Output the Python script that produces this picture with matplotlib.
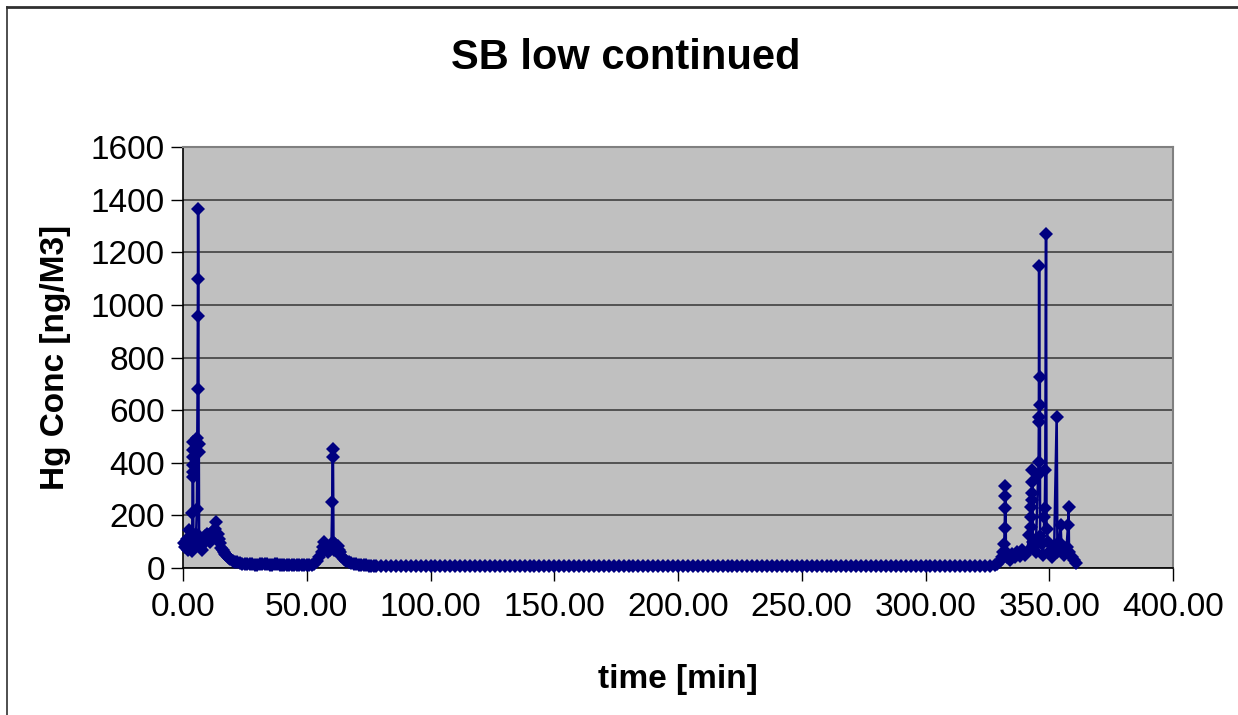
import matplotlib.pyplot as plt
from matplotlib.lines import Line2D

# time [min] and Hg concentration [ng/M3]
# first burst, 0 - 25 min
t_start = [0.5, 1.0, 1.5, 2.0, 2.5, 3.0, 3.5, 3.7, 3.8, 3.85, 3.9, 3.95, 4.0, 4.05, 4.1,
           4.2, 4.6, 5.0, 5.3, 5.6, 5.8, 5.9, 6.0, 6.1, 6.2, 6.3, 6.4, 6.5, 7.0, 7.5,
           8.0, 8.5, 9.0, 9.5, 10.0, 10.5, 11.0, 11.5, 12.0, 12.5, 13.0, 13.5, 14.0,
           14.5, 15.0, 15.5, 16.0, 16.5, 17.0, 17.5, 18.0, 18.5, 19.0, 20, 21, 22, 23,
           24, 25]
c_start = [95, 80, 110, 70, 145, 85, 65, 120, 209, 347, 392, 449, 480, 423, 366,
           90, 75, 100, 130, 224, 495, 680, 958, 1366, 1100, 470, 440, 120, 80, 70,
           100, 95, 120, 130, 110, 125, 100, 115, 140, 120, 150, 175, 130,
           110, 95, 75, 70, 60, 55, 48, 42, 38, 33, 28, 24, 21, 19,
           17, 16]

# slow decay and second bump, 26 - 78 min
t_mid = [26, 27, 28, 29, 30, 31, 32, 33, 34, 35, 36, 37, 38, 39, 40, 41, 42, 43, 44,
         45, 46, 47, 48, 49, 50, 51, 52, 53, 54, 55, 56,
         56.5, 57, 57.5, 58, 58.5, 59, 59.5, 60, 60.3, 60.5, 60.6, 60.8, 61.2, 61.5,
         62, 62.5, 63, 63.5, 64, 65, 66, 67, 68, 69, 70, 71, 72, 73, 74, 75, 76, 77, 78]
c_mid = [15, 14, 14, 13, 13, 15, 16, 14, 14, 13, 13, 14, 15, 13, 13, 12, 12, 13, 13,
         12, 12, 11, 11, 12, 12, 11, 11, 15, 25, 40, 60,
         80, 100, 85, 70, 60, 80, 70, 90, 251, 452, 422, 100, 70, 90,
         80, 85, 70, 60, 45, 35, 28, 24, 20, 17, 15, 13, 12, 11, 10, 9, 9, 8, 8]

# long quiet stretch, 80 - 326 min
t_flat = [80, 82, 84, 86, 88, 90, 92, 94, 96, 98, 100, 102, 104, 106, 108, 110, 112,
          114, 116, 118, 120, 122, 124, 126, 128, 130, 132, 134, 136, 138, 140, 142,
          144, 146, 148, 150, 152, 154, 156, 158, 160, 162, 164, 166, 168, 170, 172,
          174, 176, 178, 180, 182, 184, 186, 188, 190, 192, 194, 196, 198, 200, 202,
          204, 206, 208, 210, 212, 214, 216, 218, 220, 222, 224, 226, 228, 230, 232,
          234, 236, 238, 240, 242, 244, 246, 248, 250, 252, 254, 256, 258, 260, 262,
          264, 266, 268, 270, 272, 274, 276, 278, 280, 282, 284, 286, 288, 290, 292,
          294, 296, 298, 300, 302, 304, 306, 308, 310, 312, 314, 316, 318, 320, 322,
          324, 326]
c_flat = [8, 8, 7, 8, 7, 7, 8, 7, 7, 7, 8, 7, 7, 6, 7, 7, 6,
          7, 6, 7, 7, 6, 7, 7, 6, 7, 6, 6, 7, 6, 6, 7,
          6, 6, 6, 7, 6, 6, 6, 6, 6, 7, 6, 6, 6, 6, 7,
          6, 7, 6, 6, 6, 7, 6, 6, 6, 6, 6, 6, 6, 6, 6,
          6, 6, 6, 6, 6, 6, 6, 6, 6, 6, 6, 6, 6, 7, 9,
          8, 7, 6, 6, 6, 6, 6, 6, 6, 6, 6, 6, 6, 6, 6,
          6, 6, 6, 6, 6, 6, 6, 6, 6, 6, 6, 6, 6, 6, 6,
          6, 6, 6, 6, 6, 6, 6, 6, 6, 6, 7, 7, 7, 8, 8,
          8, 9]

# final burst, 328 - 361 min
t_end = [328, 329, 330, 331, 331.5, 331.8, 332, 332.1, 332.2, 332.3, 332.5, 333, 334,
         335, 336, 337, 338, 339, 340, 341, 342, 342.5, 342.7, 342.8, 342.9, 343,
         343.1, 343.2, 343.4, 344, 344.5, 345.5, 345.7, 345.8, 345.9, 346.0, 346.1,
         346.2, 346.3, 347, 347.5, 348, 348.2, 348.4, 348.7, 348.9, 349.5, 350, 351,
         352, 353, 353.3, 354, 354.6, 355, 356, 357, 357.6, 357.8, 358, 359, 360, 361]
c_end = [10, 15, 25, 40, 62, 91, 152, 228, 274, 312, 60, 40, 30,
         55, 40, 60, 45, 70, 50, 60, 125, 157, 195, 233, 259, 285,
         328, 372, 100, 80, 60, 354, 404, 556, 1146, 575, 620,
         727, 120, 90, 50, 195, 228, 372, 1270, 150, 100, 60, 40,
         80, 574, 60, 100, 163, 70, 50, 80, 163, 233, 60, 40, 30, 20]

time = t_start + t_mid + t_flat + t_end
conc = c_start + c_mid + c_flat + c_end

x_ticks = [0, 50, 100, 150, 200, 250, 300, 350, 400]
y_ticks = [0, 200, 400, 600, 800, 1000, 1200, 1400, 1600]

plt.rcParams['font.family'] = ['Liberation Sans', 'DejaVu Sans']

fig = plt.figure(figsize=(12.38, 7.15), dpi=100)
ax = fig.add_axes([183 / 1238, 1 - 568 / 715, 990 / 1238, 421 / 715])
ax.set_facecolor('#C0C0C0')

ax.plot(time, conc, color='#000080', linewidth=1.8, marker='D', markersize=7.5,
        markeredgewidth=0, zorder=3, clip_on=False)

ax.set_xlim(0, 400)
ax.set_ylim(0, 1600)
ax.set_xticks(x_ticks)
ax.set_xticklabels([f'{v:.2f}' for v in x_ticks])
ax.set_yticks(y_ticks)
ax.yaxis.grid(True, color='#404040', linewidth=1.2)
ax.set_axisbelow(True)
ax.tick_params(axis='both', labelsize=24, length=9, width=1, color='black')
ax.tick_params(axis='x', pad=8)
ax.tick_params(axis='y', pad=4)

for side in ['top', 'right']:
    ax.spines[side].set_color('#808080')
    ax.spines[side].set_linewidth(1.5)
for side in ['left', 'bottom']:
    ax.spines[side].set_color('black')
    ax.spines[side].set_linewidth(1.2)

ax.set_xlabel('time [min]', fontsize=24, fontweight='bold', labelpad=30)
ax.set_ylabel('Hg Conc [ng/M3]', fontsize=24, fontweight='bold', labelpad=14)
fig.text(626 / 1238, 1 - 58 / 715, 'SB low continued', fontsize=30, fontweight='bold',
         ha='center', va='center')

# chart frame (only top and left visible in the reference)
fig.add_artist(Line2D([7 / 1238, 1], [1 - 7 / 715, 1 - 7 / 715], color='#303030',
                      linewidth=2, transform=fig.transFigure))
fig.add_artist(Line2D([7 / 1238, 7 / 1238], [0, 1 - 7 / 715], color='#303030',
                      linewidth=1.2, transform=fig.transFigure))

fig.savefig('out.png', dpi=100)
